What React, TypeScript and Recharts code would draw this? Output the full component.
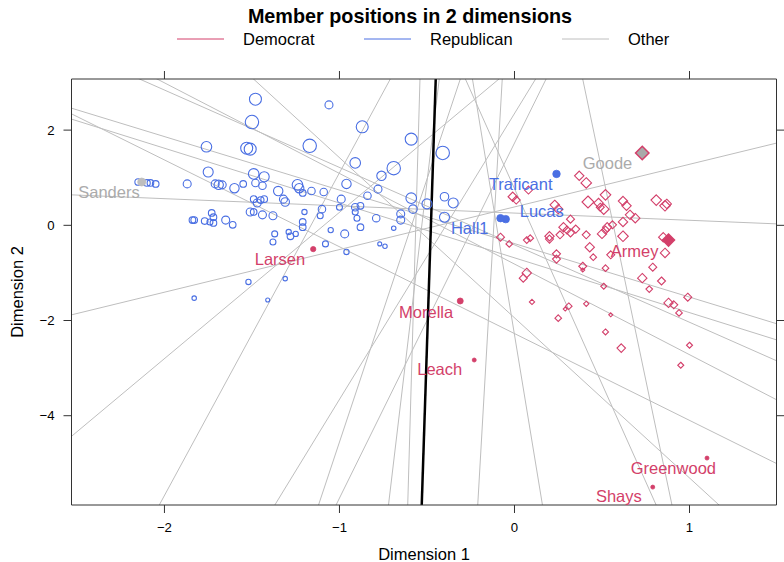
import React from "react";
import { ScatterChart, Scatter, XAxis, YAxis, ZAxis, ReferenceLine } from "recharts";

type Point = [number, number, number];

const BLUE = "#4A6FE3";
const RED = "#D33F6A";
const GRAY = "#BEBEBE";
const TEXT_GRAY = "#ABABAB";
const FONT = '"Liberation Sans", Arial, Helvetica, sans-serif';

const xTicks = [-2, -1, 0, 1];
const yTicks = [-4, -2, 0, 2];
const xDomain: [number, number] = [-2.531, 1.497];
const yDomain: [number, number] = [-5.876, 3.074];

// Republican members: [dimension 1, dimension 2, weight]
const republicans: Point[] = [
  [-1.48, 2.65, 36], [-1.06, 2.53, 16], [-1.5, 2.17, 45], [-0.87, 2.07, 36],
  [-0.59, 1.81, 36], [-1.76, 1.65, 28], [-1.53, 1.62, 36], [-1.51, 1.6, 36],
  [-1.17, 1.67, 45], [-0.41, 1.52, 45], [-0.91, 1.31, 28], [-0.69, 1.2, 45],
  [-1.75, 1.12, 25], [-1.49, 1.08, 28], [-1.43, 1.02, 25], [-0.76, 1.04, 22],
  [-2.15, 0.91, 11], [-2.1, 0.89, 11], [-2.08, 0.89, 11], [-2.05, 0.87, 11],
  [-1.87, 0.87, 16], [-1.71, 0.87, 16], [-1.69, 0.85, 22], [-1.67, 0.85, 16],
  [-1.6, 0.78, 22], [-1.55, 0.87, 11], [-1.48, 0.89, 14], [-1.44, 0.83, 14],
  [-1.35, 0.72, 22], [-1.24, 0.85, 28], [-1.23, 0.78, 22], [-1.21, 0.68, 11],
  [-1.16, 0.72, 14], [-1.09, 0.7, 14], [-0.96, 0.87, 22], [-0.84, 0.62, 14],
  [-0.78, 0.76, 16], [-0.99, 0.55, 16], [-0.59, 0.57, 28], [-0.4, 0.6, 18],
  [-0.35, 0.47, 25], [-0.5, 0.45, 25], [-0.58, 0.34, 18], [-1.49, 0.55, 11],
  [-1.47, 0.47, 16], [-1.45, 0.53, 11], [-1.43, 0.55, 11], [-1.32, 0.55, 16],
  [-1.31, 0.49, 18], [-1.1, 0.34, 14], [-1.0, 0.38, 9], [-0.91, 0.38, 14],
  [-0.88, 0.41, 11], [-0.91, 0.28, 9], [-1.51, 0.28, 16], [-1.49, 0.28, 11],
  [-1.44, 0.22, 16], [-1.38, 0.2, 16], [-1.73, 0.26, 11], [-1.72, 0.17, 11],
  [-1.77, 0.09, 11], [-1.84, 0.11, 11], [-1.83, 0.11, 11], [-1.65, 0.11, 16],
  [-1.61, 0.01, 11], [-1.74, 0.07, 9], [-1.2, 0.28, 7], [-1.11, 0.2, 9],
  [-1.21, 0.07, 11], [-1.21, -0.04, 11], [-0.9, 0.15, 9], [-0.79, 0.15, 14],
  [-0.65, 0.24, 16], [-0.65, 0.11, 16], [-0.4, 0.17, 25], [-0.88, -0.04, 11],
  [-0.69, -0.06, 5], [-1.05, -0.1, 7], [-0.97, -0.18, 16], [-1.37, -0.18, 9],
  [-1.29, -0.14, 7], [-1.28, -0.23, 11], [-1.25, -0.18, 7], [-1.38, -0.35, 9],
  [-1.08, -0.39, 9], [-0.96, -0.56, 7], [-0.77, -0.39, 4], [-0.74, -0.44, 5],
  [-1.52, -1.19, 7], [-1.31, -1.12, 5], [-1.83, -1.53, 5], [-1.41, -1.57, 4],
  [-1.72, 0.05, 11],
];

// Democratic members: [dimension 1, dimension 2, weight]
const democrats: Point[] = [
  [0.37, 1.04, 22], [0.41, 0.89, 28], [-0.01, 0.6, 22], [0.01, 0.53, 16],
  [0.08, 0.74, 16], [0.52, 0.64, 28], [0.42, 0.49, 36], [0.48, 0.47, 22],
  [0.49, 0.38, 16], [0.51, 0.34, 28], [0.62, 0.51, 22], [0.64, 0.41, 22],
  [0.81, 0.53, 28], [0.86, 0.41, 28], [0.87, 0.45, 22], [0.23, 0.43, 22],
  [0.25, 0.34, 22], [0.66, 0.22, 22], [0.69, 0.15, 22], [0.32, 0.13, 16],
  [0.28, -0.04, 22], [0.35, -0.08, 16], [0.3, -0.1, 16], [0.2, -0.23, 22],
  [0.2, -0.29, 16], [0.26, -0.2, 16], [0.32, -0.16, 16], [0.41, -0.2, 16],
  [0.5, -0.18, 22], [0.52, -0.1, 16], [0.53, -0.04, 22], [0.56, 0.01, 16],
  [0.62, 0.07, 22], [0.62, -0.23, 28], [-0.08, -0.25, 16], [-0.03, -0.39, 11],
  [0.07, -0.31, 11], [0.09, -0.27, 11], [0.43, -0.46, 22], [0.45, -0.67, 11],
  [0.55, -0.62, 16], [0.24, -0.6, 16], [0.24, -0.71, 16], [0.85, -0.25, 22],
  [0.86, -0.58, 22], [0.39, -0.86, 16], [0.52, -0.9, 11], [0.79, -0.88, 16],
  [0.73, -1.11, 22], [0.84, -1.17, 16], [0.77, -1.34, 11], [0.51, -1.28, 9],
  [0.07, -1.0, 22], [0.05, -1.11, 16], [0.1, -1.61, 7], [0.31, -1.7, 11],
  [0.25, -1.95, 11], [0.41, -1.65, 7], [0.55, -1.88, 4], [0.88, -1.63, 22],
  [0.91, -1.67, 16], [0.94, -1.84, 11], [0.99, -1.51, 16], [0.52, -2.24, 9],
  [0.61, -2.58, 18], [1.0, -2.52, 9], [0.95, -2.94, 9], [0.29, -1.76, 4],
  [0.39, -0.94, 4],
];

// Named members, group: D / R / O as in the legend
const members = [
  { name: "Sanders", group: "O", x: -2.13, y: 0.91, w: 16 },
  { name: "Goode", group: "O", x: 0.73, y: 1.52, w: 45 },
  { name: "Traficant", group: "R", x: 0.24, y: 1.08, w: 14 },
  { name: "Lucas", group: "R", x: -0.05, y: 0.13, w: 14 },
  { name: "Hall1", group: "R", x: -0.08, y: 0.15, w: 14 },
  { name: "Armey", group: "D", x: 0.88, y: -0.31, w: 36 },
  { name: "Larsen", group: "D", x: -1.15, y: -0.5, w: 7 },
  { name: "Morella", group: "D", x: -0.31, y: -1.59, w: 9 },
  { name: "Leach", group: "D", x: -0.23, y: -2.83, w: 4 },
  { name: "Greenwood", group: "D", x: 1.1, y: -4.89, w: 4 },
  { name: "Shays", group: "D", x: 0.79, y: -5.5, w: 4 },
];

// Cutting lines: [x1, y1, x2, y2]
const cuttingLines: number[][] = [
  [-2.03, -5.88, -0.71, 3.07], [-1.37, -5.88, 0.12, 3.07], [-1.12, -5.88, -0.31, 3.07],
  [-1.02, -5.88, 0.18, 3.07], [-0.61, -5.88, -0.54, 3.07], [-0.72, -5.88, -0.43, 3.07],
  [-0.21, -5.88, -0.07, 3.07], [0.16, -5.88, -0.24, 3.07], [0.81, -5.88, -0.28, 3.07],
  [0.9, -5.88, 0.39, 3.07], [1.17, -5.88, -1.49, 3.07], [-2.53, -4.43, -0.09, 3.07],
  [-2.53, -1.88, 1.5, 1.73], [-2.53, 0.64, 1.5, 0.03], [-2.53, 2.46, 1.5, -2.07],
  [-2.53, 2.23, 1.5, -2.41], [-2.53, 2.34, 1.5, -5.01], [-2.14, 3.07, 1.5, -2.85],
  [-2.04, 3.07, 1.5, -3.67],
];
const highlightLine = [-0.53, -5.88, -0.45, 3.07];

const legendItems = [
  { label: "Democrat", color: RED, lineX: 177, textX: 243 },
  { label: "Republican", color: BLUE, lineX: 364, textX: 430 },
  { label: "Other", color: GRAY, lineX: 562, textX: 628 },
];

const groupColor: Record<string, string> = { D: RED, R: BLUE, O: GRAY };
const labelColor: Record<string, string> = { D: RED, R: BLUE, O: TEXT_GRAY };
const diamondMembers = new Set(["Goode", "Armey"]);
const labelNudge: Record<string, { anchor: "start" | "end"; dx: number; dy: number }> = {
  Sanders: { anchor: "end", dx: -2, dy: 10 },
  Goode: { anchor: "end", dx: -10, dy: 10 },
  Traficant: { anchor: "end", dx: -4, dy: 10 },
  Lucas: { anchor: "start", dx: 14, dy: -8 },
  Hall1: { anchor: "end", dx: -12, dy: 10 },
  Armey: { anchor: "end", dx: -10, dy: 11 },
  Larsen: { anchor: "end", dx: -8, dy: 10 },
  Morella: { anchor: "end", dx: -7, dy: 11 },
  Leach: { anchor: "end", dx: -12, dy: 9 },
  Greenwood: { anchor: "end", dx: 9, dy: 10 },
  Shays: { anchor: "end", dx: -11, dy: 9 },
};

const toRows = (pts: Point[]) => pts.map(([x, y, w]) => ({ x, y, w }));

const extend = ([x1, y1, x2, y2]: number[]) => {
  const dx = x2 - x1;
  const dy = y2 - y1;
  return [
    { x: x1 - dx * 0.05, y: y1 - dy * 0.05 },
    { x: x2 + dx * 0.05, y: y2 + dy * 0.05 },
  ];
};

const fmt = (v: number) => (v < 0 ? `\u2212${Math.abs(v)}` : String(v));
const radius = (p: any) => Math.sqrt((p.size ?? 16) / Math.PI);
const diamond = (cx: number, cy: number, h: number) =>
  `M${cx},${cy - h}L${cx + h},${cy}L${cx},${cy + h}L${cx - h},${cy}Z`;

const RepShape = (p: any) => (
  <circle cx={p.cx} cy={p.cy} r={radius(p)} fill="none" stroke={BLUE} strokeWidth={1.1} />
);

const DemShape = (p: any) => (
  <path d={diamond(p.cx, p.cy, radius(p))} fill="none" stroke={RED} strokeWidth={1.1} />
);

const MemberShape = (p: any) => {
  const m = p.payload;
  const r = radius(p);
  const nudge = labelNudge[m.name];
  const fill = groupColor[m.group];
  return (
    <g>
      {diamondMembers.has(m.name) ? (
        <path d={diamond(p.cx, p.cy, r)} fill={m.group === "O" ? "#A9A9A9" : RED} stroke={RED} strokeWidth={1.5} />
      ) : (
        <circle cx={p.cx} cy={p.cy} r={r} fill={fill} stroke={fill} strokeWidth={0.8} />
      )}
      <text
        x={p.cx + nudge.dx}
        y={p.cy + nudge.dy}
        textAnchor={nudge.anchor}
        dominantBaseline="central"
        fontSize={16.5}
        fill={labelColor[m.group]}
      >
        {m.name}
      </text>
    </g>
  );
};

const axisStroke = { stroke: "#333", strokeWidth: 1 };
const noPoint = () => <g />;

export default function App() {
  return (
    <div style={{ position: "absolute", left: 0, top: 0, width: 784, height: 562, background: "#fff", fontFamily: FONT }}>
      <ScatterChart width={784} height={562} margin={{ top: 78, right: 6.5, bottom: 0, left: 0 }}>
        <XAxis
          type="number"
          dataKey="x"
          domain={xDomain}
          ticks={xTicks}
          allowDataOverflow
          height={57}
          tickSize={8}
          tickMargin={10}
          tickFormatter={fmt}
          axisLine={axisStroke}
          tickLine={axisStroke}
          tick={{ fill: "#000", fontSize: 13.2 }}
          label={{
            content: (props: any) => {
              const vb = props.viewBox;
              return (
                <text x={vb.x + vb.width / 2} y={vb.y + vb.height - 2} textAnchor="middle" fontSize={16.5} fill="#000">
                  Dimension 1
                </text>
              );
            },
          }}
        />
        <XAxis
          xAxisId="top"
          orientation="top"
          type="number"
          dataKey="x"
          domain={xDomain}
          ticks={xTicks}
          allowDataOverflow
          height={1}
          tickSize={8}
          tickFormatter={() => ""}
          axisLine={axisStroke}
          tickLine={axisStroke}
        />
        <YAxis
          type="number"
          dataKey="y"
          domain={yDomain}
          ticks={yTicks}
          allowDataOverflow
          width={71.5}
          tickSize={8}
          tickMargin={9}
          tickFormatter={fmt}
          axisLine={axisStroke}
          tickLine={axisStroke}
          tick={{ fill: "#000", fontSize: 13.2 }}
          label={{
            content: (props: any) => {
              const vb = props.viewBox;
              const cy = vb.y + vb.height / 2;
              return (
                <text x={23} y={cy} transform={`rotate(-90 23 ${cy})`} textAnchor="middle" fontSize={16.5} fill="#000">
                  Dimension 2
                </text>
              );
            },
          }}
        />
        <YAxis
          yAxisId="right"
          orientation="right"
          type="number"
          dataKey="y"
          domain={yDomain}
          ticks={yTicks}
          allowDataOverflow
          width={1}
          tickSize={8}
          tickFormatter={() => ""}
          axisLine={axisStroke}
          tickLine={axisStroke}
        />
        <ZAxis type="number" dataKey="w" domain={[0, 50]} range={[0, 50 * Math.PI]} />

        {cuttingLines.map((seg, i) => (
          <ReferenceLine key={i} segment={extend(seg)} stroke={GRAY} strokeWidth={1} ifOverflow="hidden" />
        ))}
        <ReferenceLine segment={extend(highlightLine)} stroke="#000" strokeWidth={2.5} ifOverflow="hidden" />

        <Scatter data={toRows(republicans)} shape={RepShape} isAnimationActive={false} />
        <Scatter data={toRows(democrats)} shape={DemShape} isAnimationActive={false} />
        <Scatter data={members} shape={MemberShape} isAnimationActive={false} />
        {/* keeps the top and right frame axes bound to a series */}
        <Scatter xAxisId="top" yAxisId="right" data={members} shape={noPoint} isAnimationActive={false} />
      </ScatterChart>

      <svg width={784} height={70} style={{ position: "absolute", left: 0, top: 0 }}>
        <text x={410} y={23} textAnchor="middle" fontSize={19.8} fontWeight="bold" fill="#000">
          Member positions in 2 dimensions
        </text>
        {legendItems.map((item) => (
          <g key={item.label}>
            <line x1={item.lineX} x2={item.lineX + 47} y1={39} y2={39} stroke={item.color} strokeWidth={1} />
            <text x={item.textX} y={45} fontSize={16.5} fill="#000">
              {item.label}
            </text>
          </g>
        ))}
      </svg>
    </div>
  );
}
